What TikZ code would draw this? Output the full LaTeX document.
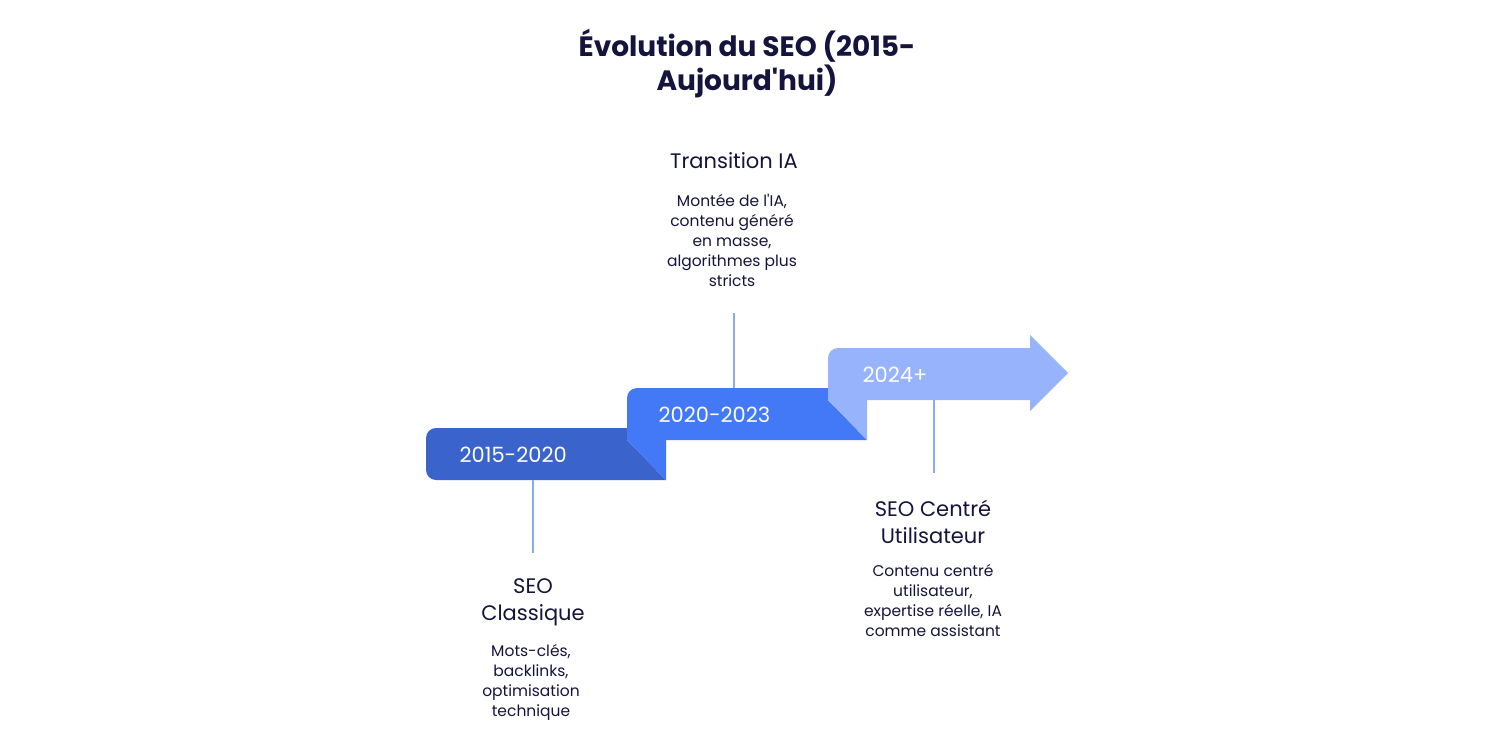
\documentclass[tikz,border=0pt]{standalone}
\usepackage{fontspec}
\setmainfont{Poppins}
\definecolor{ink}{HTML}{14143C}
\definecolor{bA}{HTML}{3B63CC}
\definecolor{bB}{HTML}{4379F7}
\definecolor{bC}{HTML}{96B3FB}
\definecolor{ln}{HTML}{8CA9F6}
\begin{document}
\begin{tikzpicture}[x=1pt,y=-1pt,
  ttl/.style={font=\fontsize{28}{34}\selectfont\bfseries,text=ink,align=center},
  hd/.style={font=\fontsize{21}{27}\selectfont,text=ink,align=center},
  bd/.style={font=\fontsize{15.5}{20}\selectfont,text=ink,align=center},
  yr/.style={font=\fontsize{21}{25}\selectfont,text=white,anchor=west},
  stem/.style={draw=ln,line width=1.3pt}]
\useasboundingbox (0,0) rectangle (1500,750);
\node[ttl] (t) at (747,64) {Évolution du SEO (2015-\\Aujourd\textquotesingle hui)};
% box 1
\fill[bA] (436,428) -- (627,428) -- (627,440) -- (666,480) -- (436,480) arc[start angle=90,end angle=180,radius=10] -- (426,438) arc[start angle=180,end angle=270,radius=10] -- cycle;
\fill[bB] (627,440) -- (666,440) -- (666,480) -- cycle;
% box 2
\fill[bB] (637,388) -- (828,388) -- (828,400) -- (867,440) -- (627,440) -- (627,398) arc[start angle=180,end angle=270,radius=10] -- cycle;
\fill[bC] (828,400) -- (867,400) -- (867,440) -- cycle;
% box 3
\fill[bC] (838,348) -- (1030,348) -- (1030,335) -- (1068,373) -- (1030,411) -- (1030,400) -- (828,400) -- (828,358) arc[start angle=180,end angle=270,radius=10] -- cycle;
\node[yr] (y1) at (456,455) {2015-2020};
\node[yr] (y2) at (655,415) {2020-2023};
\node[yr] (y3) at (859,375) {2024+};
\coordinate (s1) at (533,553);
\coordinate (s2) at (734,313);
\coordinate (s3) at (934,473);
\draw[stem] (533,480) -- (s1);
\draw[stem] (s2) -- (734,388);
\draw[stem] (934,400) -- (s3);
\node[hd] (h1) at (533,602) {SEO\\Classique};
\node[bd] (d1) at (531,682) {Mots-clés,\\backlinks,\\optimisation\\technique};
\node[hd] (h2) at (734,161) {Transition IA};
\node[bd] (d2) at (732,240) {Montée de l\textquotesingle IA,\\contenu généré\\en masse,\\algorithmes plus\\stricts};
\node[hd] (h3) at (933,522) {SEO Centré\\Utilisateur};
\node[bd] (d3) at (933,601) {Contenu centré\\utilisateur,\\expertise réelle, IA\\comme assistant};
\end{tikzpicture}
\end{document}
